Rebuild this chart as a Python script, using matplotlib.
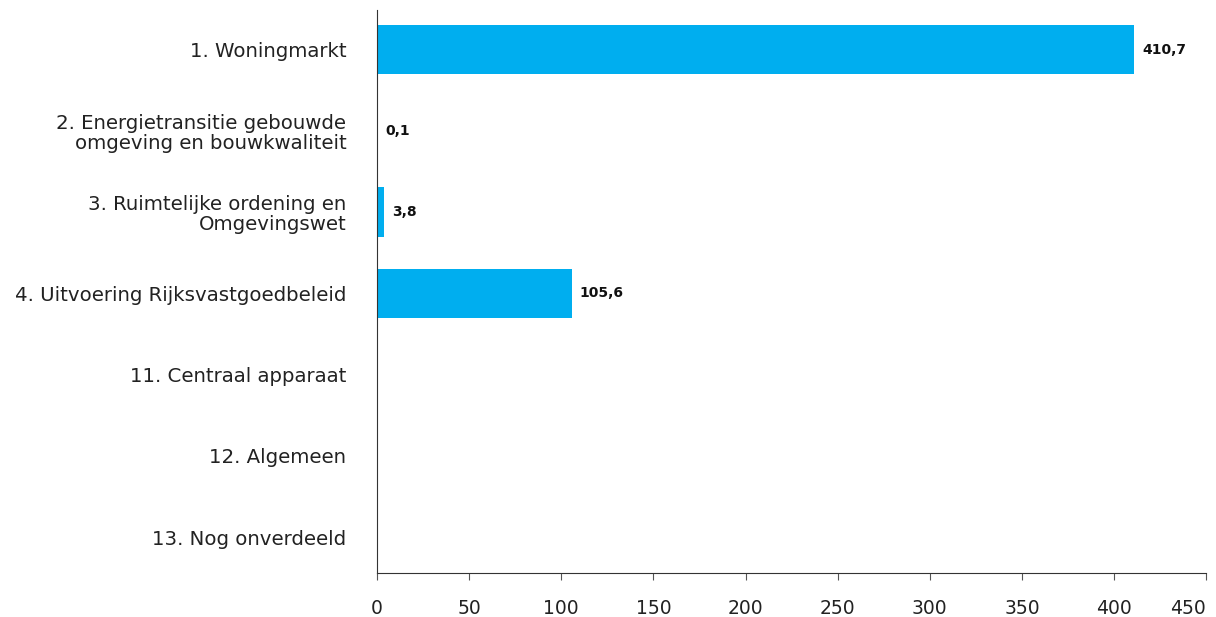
import numpy as np
import matplotlib.pyplot as plt

# categorieën en bedragen (mln euro)
categorieen = [
    '1. Woningmarkt',
    '2. Energietransitie gebouwde\nomgeving en bouwkwaliteit',
    '3. Ruimtelijke ordening en\nOmgevingswet',
    '4. Uitvoering Rijksvastgoedbeleid',
    '11. Centraal apparaat',
    '12. Algemeen',
    '13. Nog onverdeeld',
]
waarden = [410.7, 0.1, 3.8, 105.6, np.nan, np.nan, np.nan]
labels = ['410,7', '0,1', '3,8', '105,6', '', '', '']
x_ticks = list(range(0, 451, 50))

plt.rcParams['font.family'] = ['DejaVu Sans']

fig = plt.figure(figsize=(12.16, 6.17), dpi=100)
ax = fig.add_axes([0.310, 0.0713, 0.682, 0.913])

y = np.arange(len(categorieen))
ax.barh(y, np.nan_to_num(waarden), height=0.61, color='#00AEEF')

for yi, v, lab in zip(y, waarden, labels):
    if lab:
        ax.annotate(lab, (v, yi), xytext=(6, 0), textcoords='offset points',
                    va='center', ha='left', fontsize=10, fontweight='bold',
                    color='#111111')

ax.set_yticks(y)
ax.set_yticklabels(categorieen, fontsize=14.2, color='#222222', linespacing=1.05)
ax.tick_params(axis='y', length=0, pad=22)
ax.set_xticks(x_ticks)
ax.tick_params(axis='x', labelsize=13.5, labelcolor='#222222', length=5,
               color='#555555', pad=14)
ax.get_xticklabels()[-1].set_horizontalalignment('right')
ax.set_xlim(0, 450)
ax.set_ylim(6.44, -0.49)

for s in ['top', 'right']:
    ax.spines[s].set_visible(False)
ax.spines['left'].set_color('#333333')
ax.spines['bottom'].set_color('#333333')

plt.savefig('out.png', dpi=100)
